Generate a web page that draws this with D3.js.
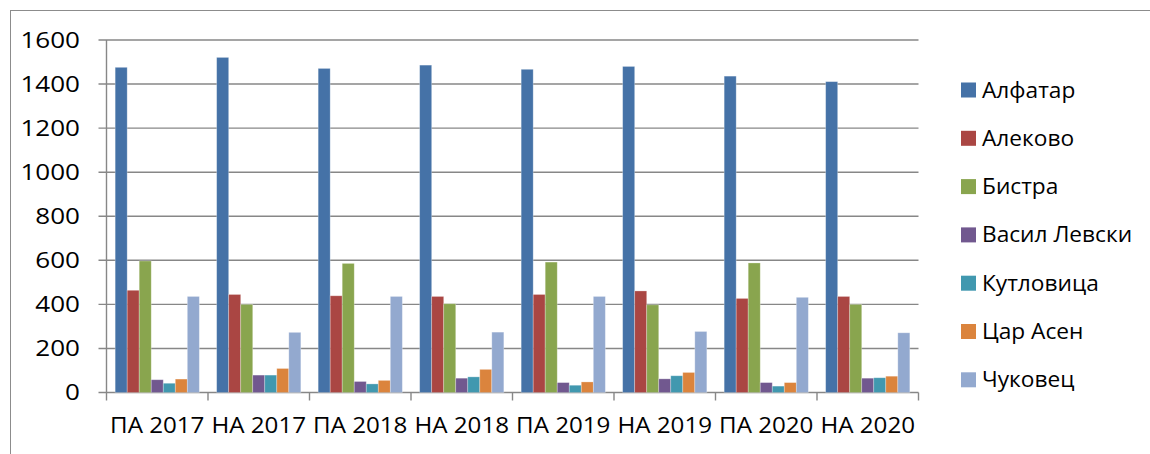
<!DOCTYPE html>
<html>
<head>
<meta charset="utf-8">
<script src="https://cdn.jsdelivr.net/npm/d3@7"></script>
<style>
    html, body { margin: 0; padding: 0; background: #fff; }
    svg { display: block; }
    text { font-family: "Open Sans", sans-serif; fill: #000; }
</style>
</head>
<body>
<svg width="1150" height="454"></svg>
<script>

const categories = ['ПА 2017', 'НА 2017', 'ПА 2018', 'НА 2018', 'ПА 2019', 'НА 2019', 'ПА 2020', 'НА 2020'];
const seriesNames = ['Алфатар', 'Алеково', 'Бистра', 'Васил Левски', 'Кутловица', 'Цар Асен', 'Чуковец'];
const seriesColors = ['#4572a7', '#aa4643', '#89a54e', '#71588f', '#4198af', '#db843d', '#93a9cf'];

const alfatar = [1476, 1521, 1471, 1486, 1467, 1480, 1436, 1411];
const alekovo = [464, 445, 439, 436, 445, 461, 427, 436];
const bistra = [597, 400, 586, 403, 592, 398, 588, 400];
const vasilLevski = [58, 79, 50, 65, 45, 62, 45, 65];
const kutlovica = [42, 79, 39, 71, 33, 76, 29, 67];
const carAsen = [61, 109, 55, 105, 48, 91, 45, 74];
const chukovec = [436, 273, 436, 274, 436, 277, 432, 271];

const yTicks = [0, 200, 400, 600, 800, 1000, 1200, 1400, 1600];

const seriesValues = [alfatar, alekovo, bistra, vasilLevski, kutlovica, carAsen, chukovec];

const svg = d3.select('svg');
const plotLeft = 106.5, plotRight = 918.5, plotTop = 40, plotBottom = 392.5;
const gridColor = '#878787';
const fontSize = 21;

// outer frame, cut off on the right and bottom like the picture
svg.append('rect')
    .attr('x', 10.5).attr('y', 10.5)
    .attr('width', 1200).attr('height', 500)
    .attr('fill', 'none')
    .attr('stroke', '#8c8c8c');

const x0 = d3.scaleBand().domain(categories).range([plotLeft, plotRight]);
const x1 = d3.scaleBand().domain(seriesNames).range([0, x0.bandwidth()]).paddingOuter(0.72);
const y = d3.scaleLinear().domain([0, 1600]).range([plotBottom, plotTop]);

// grid lines
svg.append('g').selectAll('line')
    .data(yTicks)
    .enter().append('line')
        .attr('x1', plotLeft - 8).attr('x2', plotRight)
        .attr('y1', function(d) { return y(d); })
        .attr('y2', function(d) { return y(d); })
        .attr('stroke', gridColor)
        .attr('stroke-width', 1.4);

// bars
const groups = svg.append('g').selectAll('g')
    .data(seriesNames)
    .enter().append('g')
        .attr('fill', function(d, i) { return seriesColors[i]; });

groups.selectAll('rect')
    .data(function(d, i) { return seriesValues[i].map(function(v, j) { return { name: d, cat: categories[j], value: v }; }); })
    .enter().append('rect')
        .attr('x', function(d) { return x0(d.cat) + x1(d.name); })
        .attr('width', x1.bandwidth())
        .attr('y', function(d) { return y(d.value); })
        .attr('height', function(d) { return y(0) - y(d.value); })
        .attr('stroke', '#ffffff')
        .attr('stroke-opacity', 0.35)
        .attr('stroke-width', 0.8);

// y axis line
svg.append('line')
    .attr('x1', plotLeft).attr('x2', plotLeft)
    .attr('y1', plotTop).attr('y2', plotBottom)
    .attr('stroke', gridColor).attr('stroke-width', 1.4);

// x axis ticks at category edges
const edges = categories.map(function(c) { return x0(c); }).concat([plotRight]);
svg.append('g').selectAll('line')
    .data(edges)
    .enter().append('line')
        .attr('x1', function(d) { return d; }).attr('x2', function(d) { return d; })
        .attr('y1', plotBottom).attr('y2', plotBottom + 8)
        .attr('stroke', gridColor).attr('stroke-width', 1.4);

// reference text is drawn wider than the fonts we have
function stretch(factor) {
    return function(sel) {
        sel.each(function() {
            const w = this.getComputedTextLength();
            d3.select(this)
                .attr('textLength', w * factor)
                .attr('lengthAdjust', 'spacingAndGlyphs');
        });
    };
}

// y tick labels
svg.append('g').selectAll('text')
    .data(yTicks)
    .enter().append('text')
        .attr('x', 80)
        .attr('y', function(d) { return y(d); })
        .attr('dy', '0.36em')
        .attr('text-anchor', 'end')
        .style('font-size', fontSize + 'px')
        .text(function(d) { return d; })
        .call(stretch(1.24));

// category labels
svg.append('g').selectAll('text')
    .data(categories)
    .enter().append('text')
        .attr('x', function(d) { return x0(d) + x0.bandwidth() / 2; })
        .attr('y', 425)
        .attr('dy', '0.36em')
        .attr('text-anchor', 'middle')
        .style('font-size', fontSize + 'px')
        .text(function(d) { return d; })
        .call(stretch(1.15));

// legend
const legend = svg.append('g').selectAll('g')
    .data(seriesNames)
    .enter().append('g')
        .attr('transform', function(d, i) { return 'translate(961,' + (90 + i * 48.3) + ')'; });

legend.append('rect')
    .attr('x', 0).attr('y', -7.5)
    .attr('width', 15).attr('height', 15)
    .attr('fill', function(d, i) { return seriesColors[i]; });

legend.append('text')
    .attr('x', 21)
    .attr('dy', '0.36em')
    .style('font-size', fontSize + 'px')
    .text(function(d) { return d; })
    .call(stretch(1.08));

</script>
</body>
</html>
